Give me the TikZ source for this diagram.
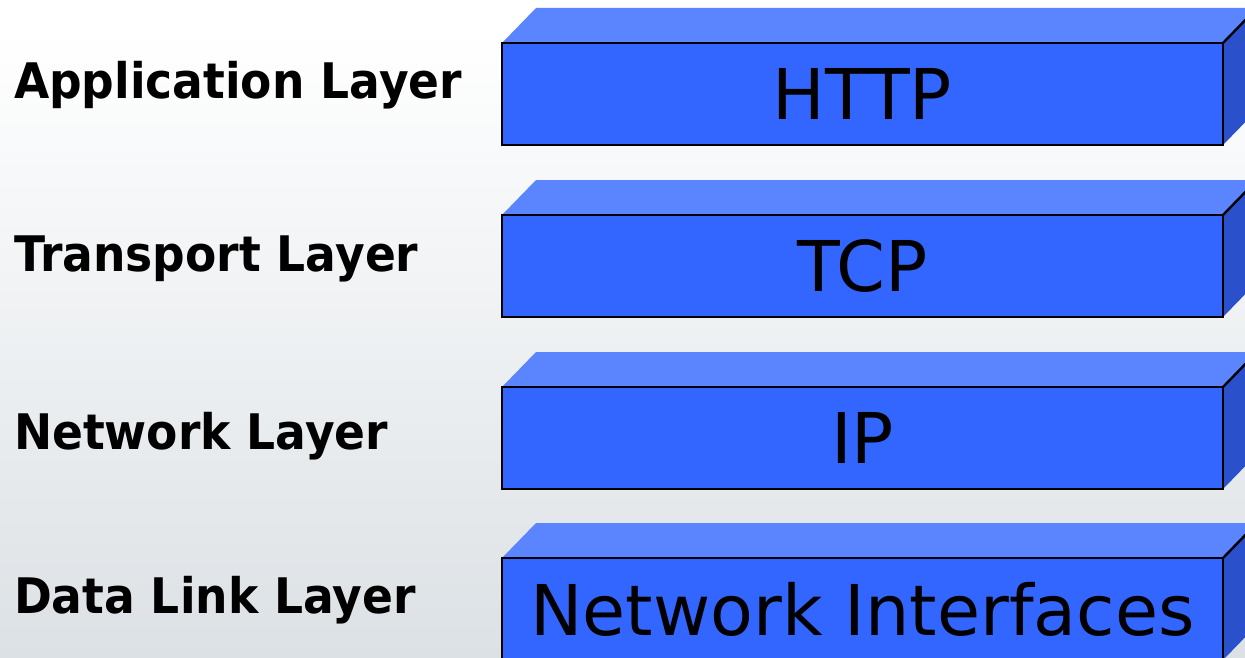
\documentclass[tikz,border=0pt]{standalone}
\usepackage{fontspec}
\setmainfont{DejaVu Sans}
\newfontfamily\labelfont[FakeStretch=0.93]{DejaVu Sans Bold}
\usetikzlibrary{calc}
\definecolor{frontc}{HTML}{3366FF}
\definecolor{topc}{HTML}{5B84FF}
\definecolor{sidec}{HTML}{2A50CC}
\definecolor{bgbot}{HTML}{DCE1E5}
\pgfdeclarelayer{bgl}
\pgfdeclarelayer{faces}
\pgfsetlayers{bgl,faces,main}
\begin{document}
\begin{tikzpicture}[x=1pt,y=-1pt,
  layerbox/.style={draw=black, line width=2.4pt, fill=frontc, minimum width=721pt,
    minimum height=102pt, inner sep=0pt, outer sep=0pt,
    font=\fontsize{70}{80}\selectfont},
  layerlabel/.style={anchor=base west, inner sep=0pt, outer sep=0pt,
    font=\fontsize{49}{58}\labelfont},
  topface/.style={fill=topc},
  sideface/.style={fill=sidec},
  edgeline/.style={draw=black, line width=2.4pt}]
\useasboundingbox (0,0) rectangle (1245,658);
\begin{pgfonlayer}{bgl}
  \fill[white] (0,0) rectangle (1245,33);
  \shade[top color=white, bottom color=bgbot] (0,30) rectangle (1245,658);
\end{pgfonlayer}
\clip (0,0) rectangle (1245,658);

\node[layerbox] (http) at (862.5,94) {HTTP};
\node[layerbox] (tcp) at (862.5,266) {TCP};
\node[layerbox] (ip) at (862.5,438) {IP};
\node[layerbox] (nif) at (862.5,609) {Network Interfaces};

\foreach \n in {http,tcp,ip,nif}{
  \begin{pgfonlayer}{faces}
    \fill[topface] (\n.north west) -- ++(34,-35) -- ($(\n.north east)+(34,-35)$) -- (\n.north east) -- cycle;
    \fill[sideface] (\n.north east) -- ++(34,-35) -- ++(0,102) -- (\n.south east) -- cycle;
  \end{pgfonlayer}
  \draw[edgeline] (\n.north east) -- ++(34,-35);
}

\node[layerlabel] (app) at (14,99) {Application Layer};
\node[layerlabel] (tra) at (14,271) {Transport Layer};
\node[layerlabel] (net) at (14,449) {Network Layer};
\node[layerlabel] (dll) at (14,613) {Data Link Layer};
\end{tikzpicture}
\end{document}
